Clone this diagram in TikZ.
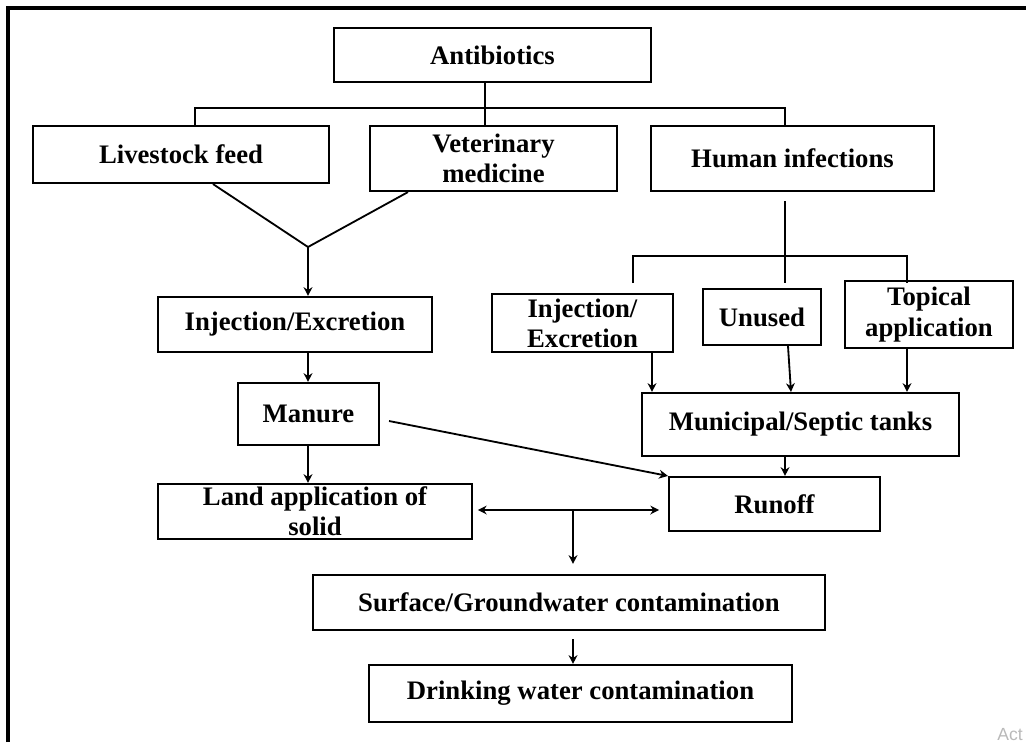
\documentclass[tikz,border=0pt]{standalone}
\usepackage{fontspec}
\setmainfont{Liberation Serif}
\setsansfont{Liberation Sans}
\usetikzlibrary{arrows.meta,calc}

\begin{document}
\begin{tikzpicture}[x=0.25mm,y=-0.25mm,>={Stealth[length=2.2mm,width=2.2mm]},
  box/.style 2 args={draw,line width=1.5pt,inner sep=0pt,align=center,
    minimum width=#1*0.25mm,minimum height=#2*0.25mm,
    font=\fontsize{19}{21.5}\selectfont\bfseries},
  link/.style={line width=1.3pt}]
  \clip (0,0) rectangle (1026,742);
  % outer frame
  \draw[line width=2.2pt] (8,742) -- (8,8) -- (1026,8);
  % sources
  \node[box={317}{54}] (anti) at (492.5,55) {Antibiotics};
  \node[box={296}{57}] (feed) at (181,154.5) {Livestock feed};
  \node[box={247}{65}] (vet) at (493.5,158.5) {Veterinary\\medicine};
  \node[box={283}{65}] (human) at (792.5,158.5) {Human infections};
  % livestock side
  \node[box={274}{55}] (injL) at (295,324.5) {Injection/Excretion};
  \node[box={141}{62}] (manure) at (308.5,414) {Manure};
  \node[box={314}{55}] (land) at (315,511.5) {Land application of\\solid};
  % human side
  \node[box={181}{58}] (injR) at (582.5,323) {Injection/\\Excretion};
  \node[box={118}{56}] (unused) at (762,317) {Unused};
  \node[box={168}{67}] (topical) at (929,314.5) {Topical\\application};
  \node[box={317}{63}] (muni) at (800.5,424.5) {Municipal/Septic tanks};
  \node[box={211}{54}] (runoff) at (774.5,504) {Runoff};
  % sinks
  \node[box={512}{55}] (surface) at (569,602.5) {Surface/Groundwater contamination};
  \node[box={423}{57}] (drink) at (580.5,693.5) {Drinking water contamination};

  % bus under Antibiotics
  \coordinate (busL) at (195,108);
  \coordinate (busM) at (485,108);
  \coordinate (busR) at (785,108);
  \draw[link] (busM |- anti.south) -- (busM |- vet.north);
  \draw[link] (busL |- feed.north) -- (busL) -- (busR) -- (busR |- human.north);

  % livestock chain
  \coordinate (join) at (308,247);
  \draw[link] ($(feed.south)+(32,0)$) -- (join) -- ($(vet.south)+(-85.5,0)$);
  \draw[link,->] (join) -- (join |- injL.north);
  \draw[link,->] (join |- injL.south) -- (join |- manure.north);
  \draw[link,->] (join |- manure.south) -- (join |- land.north);

  % human chain
  \coordinate (hub) at (785,256);
  \coordinate (dropL) at (633,283);
  \coordinate (dropR) at (907,283);
  \coordinate (xA) at (652,0);
  \draw[link] ($(hub |- human.south)+(0,9)$) -- (hub |- dropL);
  \draw[link] (dropL) -- (dropL |- hub) -- (dropR |- hub) -- (dropR);
  \draw[link,->] (xA |- injR.south) -- (xA |- muni.north);
  \draw[link,->] ($(unused.south)+(26,0)$) -- ($(muni.north)+(-9.5,0)$);
  \draw[link,->] (dropR |- topical.south) -- (dropR |- muni.north);
  \draw[link,->] (hub |- muni.south) -- (hub |- runoff.north);
  \draw[link,->] ($(manure.east)+(9,7)$) -- (runoff.north west);

  % merge into water
  \coordinate (mid) at (573,510);
  \draw[link,<->,shorten <=1.2mm,shorten >=2.2mm] (land.east |- mid) -- (runoff.west |- mid);
  \draw[link,->,shorten >=2.5mm] (mid) -- (mid |- surface.north);
  \draw[link,->,shorten <=2mm] (mid |- surface.south) -- (mid |- drink.north);

  \node[anchor=base west,inner sep=0pt,text=gray!55,font=\sffamily\fontsize{12.5}{15}\selectfont] (act) at (997,740) {Act};
\end{tikzpicture}
\end{document}
